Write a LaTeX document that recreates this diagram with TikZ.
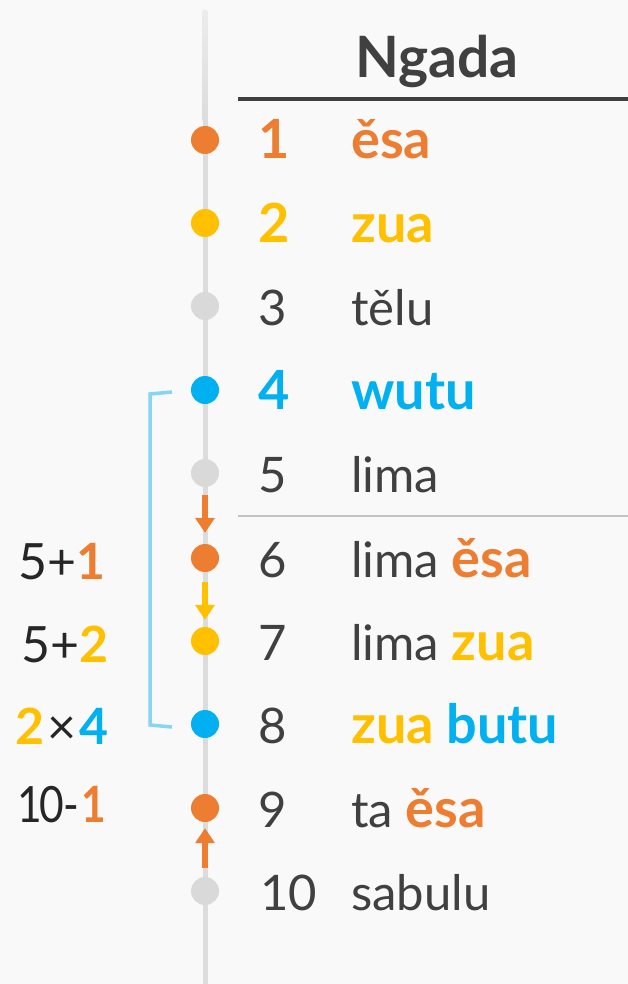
\documentclass[tikz,border=0pt]{standalone}
\usepackage{fontspec}
\setmainfont{Lato}
\usetikzlibrary{arrows.meta}
\definecolor{bg}{HTML}{F9F9F9}
\definecolor{orng}{HTML}{ED7D31}
\definecolor{yell}{HTML}{FFC000}
\definecolor{blu}{HTML}{00B0F0}
\definecolor{lblu}{HTML}{87D5F5}
\definecolor{dgray}{HTML}{D9D9D9}
\definecolor{spine}{HTML}{DCDCDC}
\definecolor{txt}{HTML}{404040}
\definecolor{txtd}{HTML}{262626}
\definecolor{sep}{HTML}{C4C4C4}
\newcommand{\Or}[1]{{\fontsize{54}{56}\selectfont\bfseries\color{orng}#1}}
\newcommand{\Ye}[1]{{\fontsize{54}{56}\selectfont\bfseries\color{yell}#1}}
\newcommand{\Bl}[1]{{\fontsize{54}{56}\selectfont\bfseries\color{blu}#1}}
\newcommand{\LOr}[1]{{\bfseries\color{orng}#1}}
\newcommand{\LYe}[1]{{\bfseries\color{yell}#1}}
\newcommand{\LBl}[1]{{\bfseries\color{blu}#1}}
\begin{document}
\begin{tikzpicture}[x=1pt,y=-1pt,
  dotn/.style={circle,inner sep=0pt,minimum size=28pt},
  lbl/.style={anchor=base west,inner sep=0pt,text=txt,font=\fontsize{49}{56}\selectfont},
  leftlbl/.style={anchor=base east,inner sep=0pt,text=txtd,font=\fontsize{50}{56}\selectfont},
  arr/.style={line width=6pt,-{Triangle[width=19pt,length=15pt]}},
  bracketline/.style={lblu,line width=3.5pt}]
\fill[bg] (0,0) rectangle (628,984);
\useasboundingbox (0,0) rectangle (628,984);
% spine
\coordinate (stop) at (205,12);
\coordinate (sbot) at (205,984);
\draw[spine,line width=5pt] (205,120) -- (sbot);
\shade[top color=spine!45!bg,bottom color=spine] (202.5,12) rectangle (207.5,121);
\fill[spine!45!bg] (stop) circle (2.5pt);
% header
\node[anchor=base,inner sep=0pt,text=txt,font=\fontsize{57}{60}\selectfont\bfseries] (hdr) at (437,78) {Ngada};
\coordinate (h1) at (238,99);
\coordinate (h2) at (628,99);
\draw[txt,line width=4pt] (h1) -- (h2);
% dots
\node[dotn,fill=orng] (d1) at (205,140) {};
\node[dotn,fill=yell] (d2) at (205,223) {};
\node[dotn,fill=dgray] (d3) at (205,306) {};
\node[dotn,fill=blu] (d4) at (205,390) {};
\node[dotn,fill=dgray] (d5) at (205,473) {};
\node[dotn,fill=orng] (d6) at (205,558) {};
\node[dotn,fill=yell] (d7) at (205,641) {};
\node[dotn,fill=blu] (d8) at (205,724) {};
\node[dotn,fill=orng] (d9) at (205,808) {};
\node[dotn,fill=dgray] (d10) at (205,891) {};
% numbers and words
\node[lbl] (n1) at (258,159) {\Or{1}};
\node[lbl] (w1) at (351,159) {\Or{ěsa}};
\node[lbl] (n2) at (258,242) {\Ye{2}};
\node[lbl] (w2) at (351,242) {\Ye{zua}};
\node[lbl] (n3) at (258,325) {3};
\node[lbl] (w3) at (351,325) {tělu};
\node[lbl] (n4) at (258,409) {\Bl{4}};
\node[lbl] (w4) at (351,409) {\Bl{wutu}};
\node[lbl] (n5) at (258,492) {5};
\node[lbl] (w5) at (351,492) {lima};
\node[lbl] (n6) at (258,577) {6};
\node[lbl] (w6) at (351,577) {lima \Or{ěsa}};
\node[lbl] (n7) at (258,660) {7};
\node[lbl] (w7) at (351,660) {lima \Ye{zua}};
\node[lbl] (n8) at (258,743) {8};
\node[lbl] (w8) at (351,743) {\Ye{zua} \Bl{butu}};
\node[lbl] (n9) at (258,827) {9};
\node[lbl] (w9) at (351,827) {ta \Or{ěsa}};
\node[lbl] (n10) at (260,910) {10};
\node[lbl] (w10) at (351,910) {sabulu};
% separator
\coordinate (s1) at (238,516);
\coordinate (s2) at (628,516);
\draw[sep,line width=1.2pt] (s1) -- (s2);
% left labels
\node[leftlbl] (l6) at (106,579) {5+\LOr{1}};
\node[leftlbl] (l7) at (109,662) {5+\LYe{2}};
\node[leftlbl] (l8) at (109,744) {\LYe{2}\kern3pt×\kern3pt\LBl{4}};
\node[leftlbl] (l9) at (106,822) {\scalebox{0.85}[1]{1\kern-4pt0-\kern2pt\LOr{1}}};
% arrows
\draw[arr,orng,shorten <=8pt,shorten >=11pt] (d5) -- (d6);
\draw[arr,yell,shorten <=10pt,shorten >=7pt] (d6) -- (d7);
\draw[arr,orng,shorten <=9pt,shorten >=6pt] (d10) -- (d9);
% bracket
\coordinate (b1) at (172,392);
\coordinate (b2) at (172,727);
\draw[bracketline] (b1) -- (150,394) -- (150,725) -- (b2);
\end{tikzpicture}
\end{document}
